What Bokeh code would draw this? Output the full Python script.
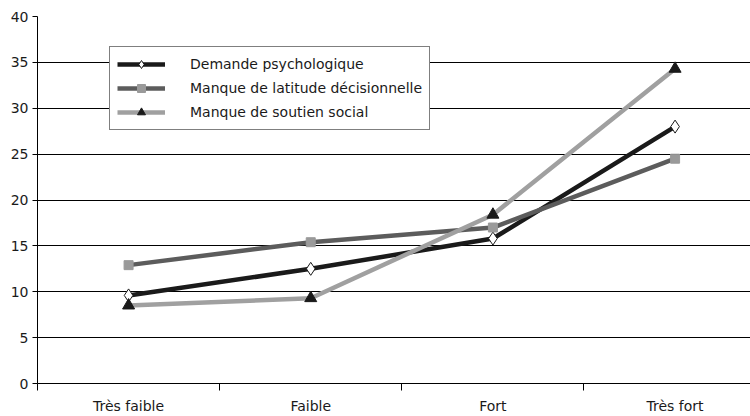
from bokeh.plotting import figure
from bokeh.models import FixedTicker, Range1d, Legend, LegendItem
from bokeh.embed import file_html
from bokeh.resources import INLINE

categories = ["Très faible", "Faible", "Fort", "Très fort"]
demande = [9.6, 12.5, 15.8, 28.0]
latitude = [12.9, 15.4, 17.0, 24.5]
soutien = [8.5, 9.3, 18.4, 34.3]
series_names = ["Demande psychologique",
                "Manque de latitude décisionnelle",
                "Manque de soutien social"]
y_ticks = [0, 5, 10, 15, 20, 25, 30, 35, 40]

FONT = "DejaVu Sans"
x = list(range(len(categories)))

p = figure(width=750, height=416, output_backend="svg", toolbar_location=None,
           x_range=Range1d(-0.5, 3.414), y_range=Range1d(0, 40),
           min_border_left=37, min_border_right=0, min_border_top=16,
           min_border_bottom=32)
p.outline_line_color = None
p.background_fill_color = "white"
p.border_fill_color = "white"

p.xgrid.grid_line_color = None
p.ygrid.ticker = FixedTicker(ticks=y_ticks)
p.ygrid.grid_line_color = "black"
p.ygrid.grid_line_width = 1

p.yaxis.ticker = FixedTicker(ticks=y_ticks, minor_ticks=[])
p.yaxis.axis_line_color = "black"
p.yaxis.major_tick_out = 5
p.yaxis.major_tick_in = 0
p.yaxis.major_label_standoff = 4
p.yaxis.major_label_text_font = FONT
p.yaxis.major_label_text_font_size = "14px"
p.yaxis.major_label_text_color = "#1a1a1a"

p.xaxis.ticker = FixedTicker(ticks=x, minor_ticks=[i - 0.5 for i in range(len(categories) + 1)])
p.xaxis.major_label_overrides = {i: c for i, c in enumerate(categories)}
p.xaxis.axis_line_color = "black"
p.xaxis.major_tick_out = 0
p.xaxis.major_tick_in = 0
p.xaxis.minor_tick_out = 7
p.xaxis.minor_tick_in = 0
p.xaxis.minor_tick_line_color = "black"
p.xaxis.major_label_standoff = 7
p.xaxis.major_label_text_font = FONT
p.xaxis.major_label_text_font_size = "14px"
p.xaxis.major_label_text_color = "#1a1a1a"

lw = 4.5
l1 = p.line(x, demande, line_color="#1a1a1a", line_width=lw)
l2 = p.line(x, latitude, line_color="#5c5c5c", line_width=lw)
l3 = p.line(x, soutien, line_color="#a0a0a0", line_width=lw)
m1 = p.scatter(x, demande, marker="diamond", size=13,
               fill_color="white", line_color="#1a1a1a", line_width=1)
m2 = p.scatter(x, latitude, marker="square", size=9,
               fill_color="#9a9a9a", line_color="#9a9a9a")
m3 = p.scatter(x, soutien, marker="triangle", size=12,
               fill_color="#1a1a1a", line_color="#1a1a1a")

legend = Legend(items=[LegendItem(label=series_names[0], renderers=[l1, m1]),
                       LegendItem(label=series_names[1], renderers=[l2, m2]),
                       LegendItem(label=series_names[2], renderers=[l3, m3])],
                location=(72, 253))
legend.label_text_font = FONT
legend.label_text_font_size = "14px"
legend.label_text_color = "#1a1a1a"
legend.glyph_width = 48
legend.glyph_height = 20
legend.label_height = 20
legend.label_standoff = 25
legend.spacing = 4
legend.padding = 7
legend.margin = 0
legend.border_line_color = "black"
legend.border_line_width = 1
legend.background_fill_color = "white"
legend.background_fill_alpha = 1
p.add_layout(legend)

open("out.html", "w").write(file_html(p, INLINE))
